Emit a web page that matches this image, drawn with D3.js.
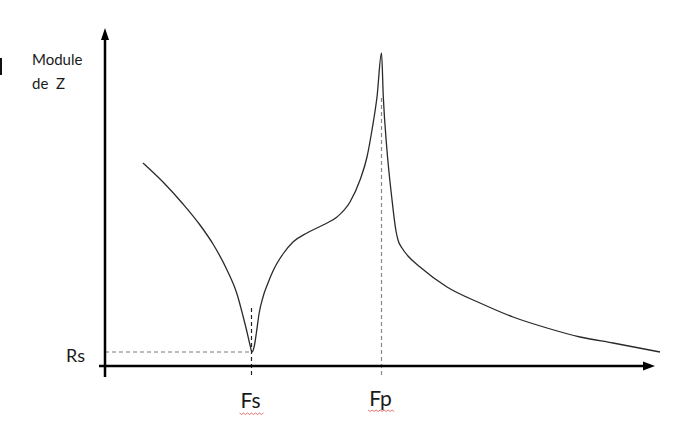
<!DOCTYPE html>
<html><head><meta charset="utf-8">
<script src="https://cdn.jsdelivr.net/npm/d3@7"></script>
<style>
html,body{margin:0;padding:0;background:#fff;}
text{font-family:Lato,"Open Sans",sans-serif;fill:#1a1a1a;}
</style></head>
<body>
<svg id="chart" width="700" height="446"></svg>
<script>
// Frequency (arbitrary units) and impedance modulus |Z| (arbitrary units)
const freq = [38,58,78,95,108,122,132,138,142,145,147,149.5,151.5,154,158,163,168,178,188,202,218,232,245,255,262,267,272,276.5,278.3,281.7,286.7,291,293,297,303,315,342,375,408,442,475,508,555];
const modZ = [203,184,162,141,122,96,72,50,34,21,14,21,34,52,69,83,95,112,124,133,141,149,164,186,209,236,269,313,269,219,169,135,126,118,110,99,79,63,49,38,29,23,14];
const Fs = 146.5, Fp = 276.5, Rs = 14;
const tickLabels = ["Fs", "Fp"];
const yLabel = ["Module", "de  Z"];
const rsLabel = "Rs";

const svg = d3.select("#chart");
const x = d3.scaleLinear().domain([0, 550]).range([105, 655]);
const y = d3.scaleLinear().domain([0, 338]).range([366, 28]);

// small artifact mark at left
svg.append("rect").attr("x", 0).attr("y", 58).attr("width", 2).attr("height", 17).attr("fill", "#111");

// dashed guides
svg.append("line").attr("x1", x(0)).attr("x2", x(Fs)).attr("y1", y(Rs)).attr("y2", y(Rs))
  .attr("stroke", "#777").attr("stroke-width", 1).attr("stroke-dasharray", "4,3");
svg.append("line").attr("x1", x(Fs)).attr("x2", x(Fs)).attr("y1", y(58)).attr("y2", y(-11))
  .attr("stroke", "#222").attr("stroke-width", 1.2).attr("stroke-dasharray", "4,3");
svg.append("line").attr("x1", x(Fp)).attr("x2", x(Fp)).attr("y1", y(268)).attr("y2", y(-9))
  .attr("stroke", "#888").attr("stroke-width", 1.2).attr("stroke-dasharray", "4,3");

// axes
const axisColor = "#000";
svg.append("line").attr("x1", x(0)).attr("x2", x(0)).attr("y1", y(-11)).attr("y2", y(328))
  .attr("stroke", axisColor).attr("stroke-width", 2.5);
svg.append("path").attr("d", `M${x(0)},${y(338)} L${x(0)-4},${y(326)} L${x(0)+4},${y(326)} Z`).attr("fill", axisColor);
svg.append("line").attr("x1", x(-6)).attr("x2", x(540)).attr("y1", y(0)).attr("y2", y(0))
  .attr("stroke", axisColor).attr("stroke-width", 2.5);
svg.append("path").attr("d", `M${x(550)},${y(0)} L${x(538)},${y(0)-4.5} L${x(538)},${y(0)+4.5} Z`).attr("fill", axisColor);

// curve
const line = d3.line().x((d, i) => x(freq[i])).y((d, i) => y(modZ[i])).curve(d3.curveMonotoneX);
svg.append("path").datum(freq).attr("d", line).attr("fill", "none")
  .attr("stroke", "#2a2a2a").attr("stroke-width", 1.3);

// labels
svg.append("text").attr("x", 32).attr("y", 65).attr("font-size", 15).text(yLabel[0]);
svg.append("text").attr("x", 32).attr("y", 89).attr("font-size", 15).attr("xml:space", "preserve").style("white-space", "pre").text(yLabel[1]);
svg.append("text").attr("x", 66).attr("y", 362).attr("font-size", 18).text(rsLabel);

const tl = [
  {t: tickLabels[0], f: Fs, size: 21, base: 408, sq: 413},
  {t: tickLabels[1], f: Fp, size: 21, base: 406, sq: 410}
];
tl.forEach(d => {
  const txt = svg.append("text").attr("x", x(d.f) - 1).attr("y", d.base).attr("text-anchor", "middle")
    .attr("font-size", d.size).text(d.t);
  const bb = txt.node().getBBox();
  // red spell-check squiggle
  let p = `M${bb.x - 1},${d.sq}`;
  for (let xx = bb.x - 1, k = 0; xx < bb.x + bb.width + 1; xx += 2, k++) {
    p += ` L${xx + 2},${d.sq + (k % 2 === 0 ? 1.5 : -0)}`;
  }
  svg.append("path").attr("d", p).attr("fill", "none").attr("stroke", "#e05050").attr("stroke-width", 0.8);
});
</script>
</body></html>
